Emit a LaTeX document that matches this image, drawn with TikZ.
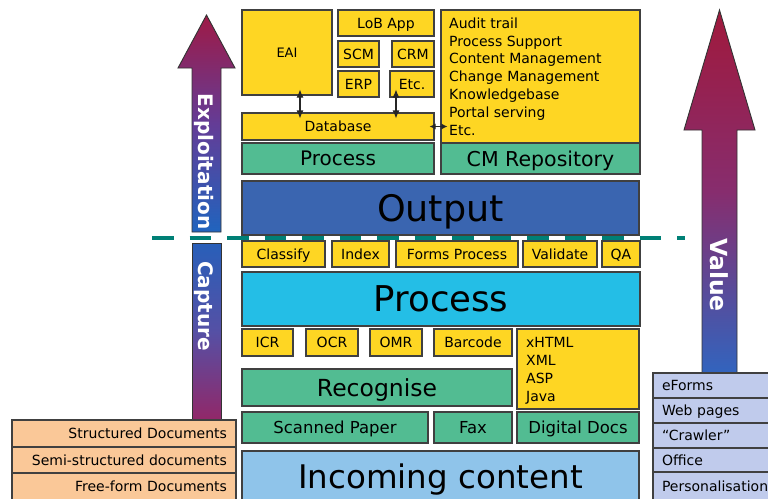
\documentclass[tikz,border=0pt]{standalone}
\usepackage{fontspec}
\setmainfont{DejaVu Sans}
\usetikzlibrary{arrows.meta}
\definecolor{yel}{RGB}{254,214,35}
\definecolor{grn}{RGB}{82,188,146}
\definecolor{outb}{RGB}{58,101,176}
\definecolor{cyn}{RGB}{36,190,230}
\definecolor{inc}{RGB}{143,196,234}
\definecolor{peach}{RGB}{250,200,152}
\definecolor{lav}{RGB}{192,203,236}
\definecolor{tealc}{RGB}{0,128,118}
\definecolor{bord}{RGB}{64,64,64}
\definecolor{arrred}{RGB}{158,26,70}
\definecolor{arrpur}{RGB}{100,60,150}
\definecolor{arrblu}{RGB}{32,100,190}
\definecolor{vred}{RGB}{160,25,60}
\definecolor{vmid}{RGB}{135,45,110}
\definecolor{vblu}{RGB}{50,100,190}
\definecolor{cblu}{RGB}{40,95,185}
\definecolor{cmid}{RGB}{85,80,165}
\definecolor{cred}{RGB}{145,40,105}
\begin{document}
\begin{tikzpicture}[x=1pt,y=-1pt,
  bx/.style={draw=bord, line width=1.1pt, inner sep=0pt, text=black, text depth=0pt},
  sm/.style={font=\fontsize{14}{17}\selectfont},
  yb/.style={bx, sm, fill=yel},
  gb/.style={bx, fill=grn},
  arr/.style={draw=black!80, line width=0.9pt},
  vtxt/.style={text=white, rotate=-90, inner sep=0pt, text depth=0pt},
  dbl/.style={{Latex[length=8pt,width=7pt]}-{Latex[length=8pt,width=7pt]}, line width=1.1pt, draw=black!85},
  dbls/.style={{Latex[length=6pt,width=6pt]}-{Latex[length=6pt,width=6pt]}, line width=1.1pt, draw=black!85},
  ltab/.style={bx, sm, fill=peach, minimum width=224pt, text width=206pt, align=right},
  rtab/.style={bx, sm, fill=lav, minimum width=137pt, text width=119pt, align=left}]
\path[use as bounding box, fill=white] (0,0) rectangle (768,498);

% dashed divider
\coordinate (dl) at (152,238);
\coordinate (dr) at (685,238);
\draw[tealc, line width=4pt, dash pattern=on 21.5pt off 16pt] (dl) -- (dr);

% top region
\node[yb, minimum width=90pt, minimum height=85pt, font=\fontsize{13}{15}\selectfont] (eai) at (287,52.5) {EAI};
\node[yb, minimum width=96pt, minimum height=26pt] (lob) at (386,23) {LoB App};
\node[yb, minimum width=41pt, minimum height=26pt] (scm) at (358.5,54) {SCM};
\node[yb, minimum width=42pt, minimum height=26pt] (crm) at (413,54) {CRM};
\node[yb, minimum width=41pt, minimum height=26pt] (erp) at (358.5,84) {ERP};
\node[yb, minimum width=44pt, minimum height=26pt] (etc) at (412,84) {Etc.};
\node[yb, minimum width=192pt, minimum height=27pt] (db) at (338,126.5) {Database};
\node[gb, minimum width=192pt, minimum height=31pt, font=\fontsize{20}{22}\selectfont] (proc1) at (338,158.5) {Process};
\node[yb, minimum width=199pt, minimum height=133pt] (audit) at (540.5,76.5) {};
\node[anchor=north west, align=left, inner sep=0pt, font=\fontsize{14}{17.8}\selectfont] (audittxt) at (449,17.4)
  {Audit trail\\Process Support\\Content Management\\Change Management\\Knowledgebase\\Portal serving\\Etc.};
\node[gb, minimum width=199pt, minimum height=31pt, font=\fontsize{20.5}{22}\selectfont] (cmrepo) at (540.5,158.5) {CM Repository};

% connectors
\coordinate (a1) at ([xshift=13pt]eai.south);
\draw[dbl, shorten <=-6pt, shorten >=-6pt] (a1) -- (a1 |- db.north);
\coordinate (a2) at ([xshift=-16pt]etc.south);
\draw[dbl, shorten <=-8pt, shorten >=-6pt] (a2) -- (a2 |- db.north);
\draw[dbls, shorten <=-5pt, shorten >=-7pt] (db.east) -- (db.east -| audit.west);

% output
\node[bx, fill=outb, minimum width=397pt, minimum height=54pt, font=\fontsize{36.5}{40}\selectfont] (out) at (440.5,208) {Output};

% classify row
\node[yb, minimum width=83pt, minimum height=26pt] (cls) at (283.5,254) {Classify};
\node[yb, minimum width=57pt, minimum height=26pt] (idx) at (360.5,254) {Index};
\node[yb, minimum width=122pt, minimum height=26pt] (frm) at (457,254) {Forms Process};
\node[yb, minimum width=74pt, minimum height=26pt] (val) at (560,254) {Validate};
\node[yb, minimum width=38pt, minimum height=26pt] (qa) at (621,254) {QA};

% process
\node[bx, fill=cyn, minimum width=398pt, minimum height=54pt, font=\fontsize{35.5}{38}\selectfont] (proc2) at (441,299) {Process};

% recognition row
\node[yb, minimum width=51pt, minimum height=27pt] (icr) at (267.5,342.5) {ICR};
\node[yb, minimum width=52pt, minimum height=27pt] (ocr) at (332,342.5) {OCR};
\node[yb, minimum width=52pt, minimum height=27pt] (omr) at (396,342.5) {OMR};
\node[yb, minimum width=78pt, minimum height=27pt] (bar) at (473,342.5) {Barcode};
\node[yb, minimum width=122pt, minimum height=80pt] (xh) at (578,369) {};
\node[anchor=north west, align=left, inner sep=0pt, font=\fontsize{14}{18}\selectfont] (xhtxt) at (526,337.4)
  {xHTML\\XML\\ASP\\Java};
\node[gb, minimum width=270pt, minimum height=37pt, font=\fontsize{23.5}{26}\selectfont] (rec) at (377,387.5) {Recognise};

\node[gb, minimum width=186pt, minimum height=31pt, font=\fontsize{16.5}{18}\selectfont] (scan) at (335,427.5) {Scanned Paper};
\node[gb, minimum width=78pt, minimum height=31pt, font=\fontsize{16.5}{18}\selectfont] (fax) at (473,427.5) {Fax};
\node[gb, minimum width=122pt, minimum height=31pt, font=\fontsize{16.5}{18}\selectfont] (dig) at (578,427.5) {Digital Docs};
\node[bx, fill=inc, minimum width=397pt, minimum height=50pt, font=\fontsize{32.5}{34}\selectfont] (inc) at (440.5,476) {Incoming content};

% left arrows
\shadedraw[arr, top color=arrred, bottom color=arrblu, middle color=arrpur]
  (192,232) -- (192,68) -- (178,68) -- (206.5,15) -- (235,68) -- (221,68) -- (221,232) -- cycle;
\node[vtxt, font=\bfseries\fontsize{20}{22}\selectfont] (expl) at (206,161.5) {Exploitation};
\shadedraw[arr, top color=cblu, bottom color=cred, middle color=cmid]
  (192,243) rectangle (221,419);
\node[vtxt, font=\bfseries\fontsize{20}{22}\selectfont] (capt) at (206,306) {Capture};

% right arrow
\shadedraw[arr, top color=vred, bottom color=vblu, middle color=vmid]
  (702,373) -- (702,130) -- (684,130) -- (719.5,10) -- (755,130) -- (737,130) -- (737,373) -- cycle;
\node[vtxt, font=\bfseries\fontsize{23.5}{26}\selectfont] (valt) at (719.5,275) {Value};

% left table
\node[ltab, minimum height=27pt] (l1) at (124,433.5) {Structured Documents};
\node[ltab, minimum height=26pt] (l2) at (124,460) {Semi-structured documents};
\node[ltab, minimum height=27pt] (l3) at (124,486.5) {Free-form Documents};

% right table
\node[rtab, minimum height=25pt] (r1) at (721.5,385.5) {eForms};
\node[rtab, minimum height=25pt] (r2) at (721.5,410.5) {Web pages};
\node[rtab, minimum height=25pt] (r3) at (721.5,435.5) {“Crawler”};
\node[rtab, minimum height=24pt] (r4) at (721.5,460) {Office};
\node[rtab, minimum height=28pt] (r5) at (721.5,486) {Personalisation};
\end{tikzpicture}
\end{document}
